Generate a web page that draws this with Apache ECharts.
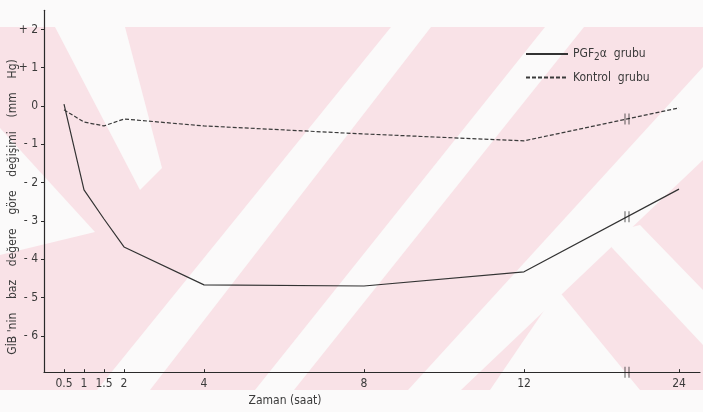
<!DOCTYPE html>
<html>
<head>
<meta charset="utf-8">
<script src="https://cdn.jsdelivr.net/npm/echarts@6/dist/echarts.min.js"></script>
<style>
html,body{margin:0;padding:0;background:#fbfafa;}
#c{width:703px;height:412px;}
</style>
</head>
<body>
<div id="c"></div>
<script>
// ---- data ----
const times = [0.5, 1, 1.5, 2, 4, 8, 12, 24];            // Zaman (saat)
const pgfValues = [0.05, -2.19, -2.95, -3.68, -4.67, -4.70, -4.33, -2.17];
const kontrolValues = [-0.10, -0.42, -0.52, -0.34, -0.52, -0.73, -0.91, -0.05];
const xTickTimes = [0.5, 1, 1.5, 2, 4, 8, 12, 24];
const xTickLabels = ['0.5', '1', '1.5', '2', '4', '8', '12', '24'];
const yTickValues = [-6, -5, -4, -3, -2, -1, 0, 1, 2];
const yTickLabels = ['- 6', '- 5', '- 4', '- 3', '- 2', '- 1', '0', '+ 1', '+ 2'];
const seriesNames = ['PGF2α grubu', 'Kontrol grubu'];

// broken time axis: hours after 12 are compressed (axis break between 12 and 24)
const BREAK_AFTER = 12, BREAK_AT = 14.575, POS_24 = 15.875;
function pos(t) { return t <= BREAK_AFTER ? t : BREAK_AFTER + (t - BREAK_AFTER) * (POS_24 - BREAK_AFTER) / (24 - BREAK_AFTER); }
function breakY(vals) {
  const i = times.indexOf(12), j = times.indexOf(24);
  const f = (BREAK_AT - pos(12)) / (pos(24) - pos(12));
  return vals[i] + f * (vals[j] - vals[i]);
}

const FONT = "'Liberation Sans Narrow','DejaVu Sans Condensed','Liberation Sans',sans-serif";
const INK = '#3a3a3a';
const Y_MIN = -6.95, Y_MAX = 2.5;

const pink = '#f9e2e7', white = '#fbfafa';
const whiteShapes = [
  [[55,27],[125,27],[162,168],[140,190]],
  [[0,128],[95,232],[0,255]],
  [[97,390],[150,390],[431,27],[391,27]],
  [[255,390],[294,390],[584,27],[545,27]],
  [[408,390],[461,390],[703,160],[703,67]],
  [[600,235],[640,225],[703,290],[703,345]],
  [[558,290],[490,390],[640,390]]
];

const graphics = [
  { type: 'rect', z: -10, silent: true, shape: { x: 0, y: 27, width: 703, height: 363 }, style: { fill: pink } }
].concat(whiteShapes.map(p => ({ type: 'polygon', z: -9, silent: true, shape: { points: p }, style: { fill: white } })))
 .concat([
  { type: 'text', x: 13, y: 207, rotation: Math.PI / 2, z: 5,
    style: { text: "GİB 'nin    baz    değere    göre    değişimi    (mm    Hg)", font: '12px ' + FONT, fill: INK, textAlign: 'center', textVerticalAlign: 'middle' } },
  { type: 'text', x: 285, y: 401, z: 5,
    style: { text: 'Zaman (saat)', font: '12px ' + FONT, fill: INK, textAlign: 'center', textVerticalAlign: 'middle' } }
]);

const chart = echarts.init(document.getElementById('c'));
const breakSymbol = 'path://M0,0L0,10M3,0L3,10';
chart.setOption({
  animation: false,
  backgroundColor: 'transparent',
  graphic: graphics,
  grid: { left: 44, right: 3, top: 106 - Y_MAX * 38.3, bottom: 412 - (106 - Y_MIN * 38.3) },
  legend: {
    orient: 'vertical', left: 520, top: 43, itemWidth: 42, itemHeight: 10, itemGap: 9,
    data: seriesNames,
    itemStyle: { opacity: 0 },
    textStyle: { fontFamily: FONT, fontSize: 12, color: INK,
      rich: { sub: { fontFamily: FONT, fontSize: 10, color: INK, padding: [7, 0, 0, 0] }, t: { fontFamily: FONT, fontSize: 12, color: INK } } },
    formatter: n => n === seriesNames[0] ? '{t|PGF}{sub|2}{t|α  grubu}' : '{t|Kontrol  grubu}'
  },
  xAxis: {
    type: 'value', min: 0, max: 16.4,
    splitLine: { show: false },
    axisLine: { onZero: false, lineStyle: { color: '#2a2a2a', width: 1.2 } },
    axisTick: { show: true, customValues: xTickTimes.map(pos), length: 3, inside: true, lineStyle: { color: '#2a2a2a' } },
    axisLabel: { customValues: xTickTimes.map(pos), margin: 6, fontFamily: FONT, fontSize: 12, color: INK,
      formatter: v => { const k = xTickTimes.map(pos).findIndex(p => Math.abs(p - v) < 1e-6); return k >= 0 ? xTickLabels[k] : ''; } }
  },
  yAxis: {
    type: 'value', min: Y_MIN, max: Y_MAX,
    splitLine: { show: false },
    axisLine: { show: true, onZero: false, lineStyle: { color: '#2a2a2a', width: 1.2 } },
    axisTick: { show: true, customValues: yTickValues, length: 3, lineStyle: { color: '#2a2a2a' } },
    axisLabel: { customValues: yTickValues, margin: 6, fontFamily: FONT, fontSize: 12, color: INK,
      formatter: v => { const k = yTickValues.indexOf(Math.round(v)); return k >= 0 ? yTickLabels[k] : ''; } }
  },
  series: [
    { name: seriesNames[0], type: 'line', symbol: 'none', data: times.map((t, i) => [pos(t), pgfValues[i]]),
      lineStyle: { color: '#333', width: 1.2 }, itemStyle: { color: '#333' } },
    { name: seriesNames[1], type: 'line', symbol: 'none', data: times.map((t, i) => [pos(t), kontrolValues[i]]),
      lineStyle: { color: '#3a3a3a', width: 1.2, type: [4, 2] }, itemStyle: { color: '#3a3a3a' } },
    { name: 'break', type: 'scatter', silent: true, z: 4, symbol: breakSymbol, symbolSize: [4, 11],
      itemStyle: { color: 'none', borderColor: '#222', borderWidth: 1.2, opacity: 1 },
      data: [[BREAK_AT, breakY(pgfValues)], [BREAK_AT, breakY(kontrolValues)], [BREAK_AT, Y_MIN]] }
  ]
});
</script>
</body>
</html>
